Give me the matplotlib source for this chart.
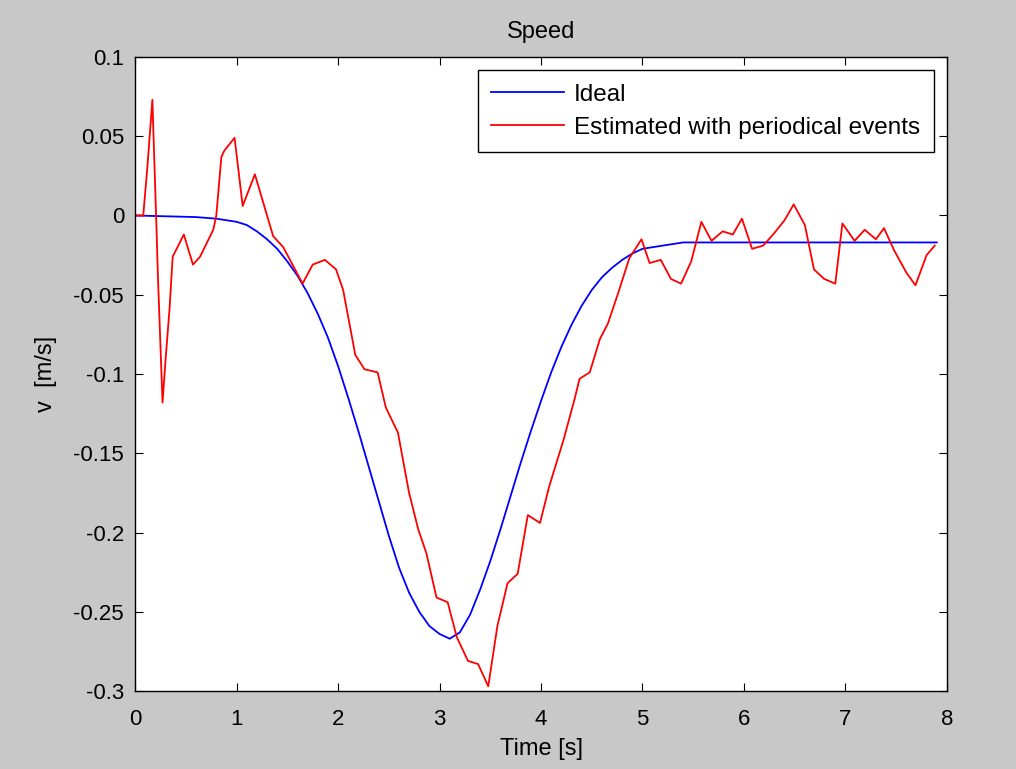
import matplotlib.pyplot as plt

plt.rcParams['font.family'] = ['Liberation Sans', 'DejaVu Sans']

# ideal speed curve
t_ideal = [0, 0.6, 0.8, 0.9, 1.0, 1.1, 1.2, 1.3, 1.4, 1.5, 1.6, 1.7, 1.8, 1.9, 2.0,
           2.1, 2.2, 2.3, 2.4, 2.5, 2.6, 2.7, 2.8, 2.9, 3.0, 3.1, 3.2, 3.3, 3.4, 3.5,
           3.6, 3.7, 3.8, 3.9, 4.0, 4.1, 4.2, 4.3, 4.4, 4.5, 4.6, 4.7, 4.8, 4.9, 5.0,
           5.2, 5.4, 5.6, 7.9]
v_ideal = [0, -0.001, -0.002, -0.003, -0.004, -0.006, -0.010, -0.015, -0.021, -0.029,
           -0.038, -0.049, -0.062, -0.077, -0.095, -0.115, -0.136, -0.158, -0.180,
           -0.202, -0.222, -0.238, -0.250, -0.259, -0.264, -0.267, -0.263, -0.252,
           -0.236, -0.218, -0.198, -0.177, -0.156, -0.136, -0.117, -0.099, -0.083,
           -0.069, -0.057, -0.047, -0.039, -0.033, -0.028, -0.024, -0.021, -0.019,
           -0.017, -0.017, -0.017]

# estimated speed with periodical events
t_est = [0, 0.08, 0.12, 0.17, 0.21, 0.225, 0.27, 0.30, 0.34, 0.37, 0.48, 0.57, 0.64,
         0.77, 0.80, 0.85, 0.88, 0.98, 1.06, 1.18, 1.36, 1.46, 1.65, 1.75, 1.87, 1.98,
         2.05, 2.17, 2.26, 2.39, 2.47, 2.59, 2.70, 2.79, 2.87, 2.97, 3.08, 3.17, 3.28,
         3.38, 3.48, 3.57, 3.67, 3.77, 3.87, 3.99, 4.08, 4.22, 4.33, 4.38, 4.48, 4.58,
         4.66, 4.76, 4.87, 4.99, 5.07, 5.18, 5.28, 5.38, 5.48, 5.58, 5.68, 5.79, 5.89,
         5.98, 6.08, 6.19, 6.30, 6.40, 6.49, 6.60, 6.69, 6.79, 6.90, 6.97, 7.09, 7.19,
         7.30, 7.38, 7.48, 7.60, 7.69, 7.80, 7.88]
v_est = [0, 0, 0.030, 0.073, -0.007, -0.039, -0.118, -0.091, -0.058, -0.026, -0.012,
         -0.031, -0.026, -0.009, 0, 0.037, 0.041, 0.049, 0.006, 0.026, -0.013, -0.020,
         -0.043, -0.031, -0.028, -0.034, -0.047, -0.088, -0.097, -0.099, -0.121, -0.137,
         -0.175, -0.198, -0.213, -0.241, -0.244, -0.266, -0.281, -0.283, -0.297, -0.259,
         -0.232, -0.226, -0.189, -0.194, -0.171, -0.142, -0.116, -0.103, -0.099, -0.078,
         -0.068, -0.049, -0.027, -0.015, -0.030, -0.028, -0.040, -0.043, -0.029, -0.004,
         -0.016, -0.010, -0.012, -0.002, -0.021, -0.019, -0.011, -0.003, 0.007, -0.006,
         -0.034, -0.040, -0.043, -0.005, -0.016, -0.009, -0.015, -0.008, -0.022, -0.036,
         -0.044, -0.025, -0.019]

y_ticks = [-0.3, -0.25, -0.2, -0.15, -0.1, -0.05, 0, 0.05, 0.1]
y_ticklabels = ['-0.3', '-0.25', '-0.2', '-0.15', '-0.1', '-0.05', '0', '0.05', '0.1']

fig = plt.figure(figsize=(10.16, 7.69), dpi=100, facecolor='#c8c8c8')
ax = fig.add_axes([0.133, 0.1014, 0.799, 0.8245])
ax.plot(t_ideal, v_ideal, color='blue', linewidth=1.3, label='Ideal')
ax.plot(t_est, v_est, color='red', linewidth=1.3, label='Estimated with periodical events')

ax.set_xlim(0, 8)
ax.set_ylim(-0.3, 0.1)
ax.set_xticks(range(0, 9))
ax.set_yticks(y_ticks)
ax.set_yticklabels(y_ticklabels)
ax.tick_params(direction='in', top=True, right=True, length=6, labelsize=16)
ax.tick_params(axis='x', pad=13)
ax.tick_params(axis='y', pad=8)
for s in ax.spines.values():
    s.set_linewidth(1.0)

ax.set_title('Speed', fontsize=17, pad=14)
ax.set_xlabel('Time [s]', fontsize=17, labelpad=6)
ax.set_ylabel('v  [m/s]', fontsize=17, labelpad=12)

leg = ax.legend(loc='upper right', fontsize=17.5, fancybox=False, framealpha=1,
                edgecolor='black', handlelength=3.0, handletextpad=0.4,
                labelspacing=0.45, borderaxespad=0.55, borderpad=0.55)
leg.get_frame().set_linewidth(1.0)

fig.savefig('out.png', dpi=100, facecolor=fig.get_facecolor())
